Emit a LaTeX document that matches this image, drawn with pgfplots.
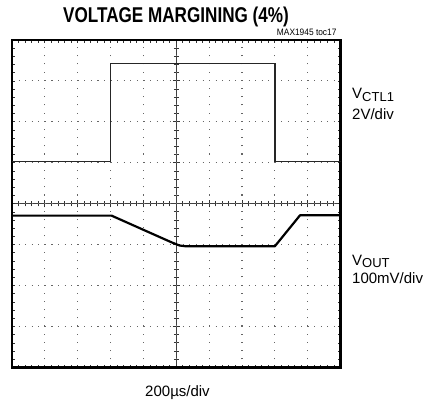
\documentclass[border=0pt]{standalone}
\usepackage{pgfplots}
\pgfplotsset{compat=1.18}
\usepackage{graphicx}
\usepackage{fontspec}
\setmainfont{Liberation Sans}
\begin{document}
\begin{tikzpicture}
\path (-12pt,-34.5pt) rectangle (424pt,367.5pt);
% centre cross with ticks
\begin{axis}[at={(0,0)}, anchor=south west, width=328.5pt, height=327.5pt, scale only axis,
  xmin=-5, xmax=5, ymin=-4, ymax=4, axis lines=middle,
  axis line style={-, line width=0.9pt, black!75},
  xtick={-5,...,5}, ytick={-4,...,4}, minor tick num=4,
  xticklabels={}, yticklabels={},
  tick align=center, major tick length=7pt, minor tick length=5pt,
  tick style={line width=0.9pt, black!80}]
\end{axis}
\begin{axis}[at={(0,0)}, anchor=south west, width=328.5pt, height=327.5pt, scale only axis,
  xmin=0, xmax=10, ymin=0, ymax=8,
  xtick={0,...,10}, ytick={0,...,8}, minor tick num=4,
  xticklabels={}, yticklabels={},
  tick align=inside, major tick length=3pt, minor tick length=2.5pt,
  tick style={black!80, line width=0.8pt},
  grid=major,
  major x grid style={black!60, line width=1.1pt, dash pattern=on 1.1pt off 7.09pt},
  major y grid style={black!60, line width=1.1pt, dash pattern=on 1.1pt off 5.47pt},
  axis line style={line width=2.6pt}]
\addplot[black!85, line width=1.4pt] coordinates {(0,5.03)(3.0,5.03)(3.0,7.43)(8.0,7.43)(8.0,5.03)(10,5.03)};
\addplot[black, line width=2.2pt, line join=round] coordinates {(0,3.71)(3.03,3.71)(4.85,3.06)(5.1,2.98)(5.3,2.96)(8.0,2.96)(8.77,3.72)(10,3.72)};
\end{axis}
\node[anchor=base, font=\bfseries\fontsize{21.4}{24}\selectfont, inner sep=0pt] at (164pt,344.8pt) {\scalebox{0.8}[1]{VOLTAGE MARGINING (4\%)}};
\node[anchor=base east, font=\fontsize{9.3}{11}\selectfont, inner sep=0pt] at (324.7pt,331.5pt) {\scalebox{0.9}[1]{MAX1945 toc17}};
\node[anchor=base west, font=\fontsize{15}{17}\selectfont, inner sep=0pt] at (340pt,268.5pt) {V\raisebox{-2.5pt}{\fontsize{13}{15}\selectfont CTL1}};
\node[anchor=base west, font=\fontsize{15}{17}\selectfont, inner sep=0pt] at (340pt,247.5pt) {2V/div};
\node[anchor=base west, font=\fontsize{15}{17}\selectfont, inner sep=0pt] at (340pt,102.5pt) {V\raisebox{-2.5pt}{\fontsize{13}{15}\selectfont OUT}};
\node[anchor=base west, font=\fontsize{15}{17}\selectfont, inner sep=0pt] at (340pt,84pt) {100mV/div};
\node[anchor=base, font=\fontsize{15}{17}\selectfont, inner sep=0pt] at (165.5pt,-28.5pt) {200µs/div};
\end{tikzpicture}
\end{document}
